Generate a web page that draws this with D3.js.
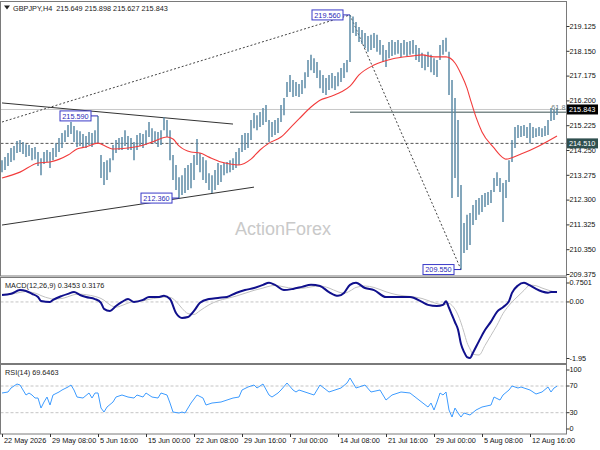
<!DOCTYPE html>
<html>
<head>
<meta charset="utf-8">
<script src="https://cdn.jsdelivr.net/npm/d3@7"></script>
<style>
  body { margin: 0; background: #fff; }
  text { font-family: "Liberation Sans", Arial, sans-serif; }
</style>
</head>
<body>
<div id="chart"></div>
<script>
// ---- data ----
const barHigh = [
  213.85,213.97,214.13,214.33,214.41,214.60,214.64,214.56,214.48,214.45,
  214.33,214.37,214.17,213.93,214.17,214.25,214.17,214.33,214.52,214.72,
  214.92,215.03,215.23,215.35,215.19,215.03,214.99,214.88,214.80,214.96,
  214.92,215.03,215.59,214.05,213.78,213.85,213.93,214.45,214.64,214.72,
  214.76,215.03,214.80,214.72,214.56,214.84,214.92,214.88,215.03,215.35,
  215.11,214.99,214.96,215.03,215.54,215.43,215.03,214.05,213.66,213.18,
  213.26,213.54,213.66,213.74,214.05,214.68,214.13,213.97,213.85,213.34,
  213.26,213.46,213.74,213.66,213.74,213.78,213.85,213.93,214.17,214.33,
  214.84,214.92,214.92,215.43,215.70,215.62,215.74,215.90,216.02,215.43,
  215.35,215.43,215.51,216.02,216.29,216.92,217.20,217.00,216.92,216.84,
  217.00,217.31,217.79,217.99,217.86,217.71,217.39,217.20,217.08,217.20,
  217.28,217.16,217.31,217.47,217.67,217.79,219.56,219.50,219.28,219.09,
  218.97,218.85,218.73,218.78,218.85,218.78,218.57,218.38,218.18,218.50,
  218.57,218.50,218.57,218.46,218.57,218.50,218.54,218.57,218.38,218.26,
  218.07,217.99,218.11,217.99,217.86,217.79,218.38,218.57,218.66,218.11,
  217.00,216.29,215.43,212.87,211.38,211.70,211.77,212.09,212.28,212.36,
  212.48,212.56,212.60,212.68,213.15,213.38,213.15,212.95,213.07,213.85,
  214.64,215.15,215.23,215.19,215.23,215.15,215.31,215.15,215.11,215.15,
  215.11,215.19,215.43,215.90,215.82,215.90
];
const barLow = [
  213.38,213.46,213.62,213.78,213.85,214.13,214.17,214.09,213.97,214.01,
  213.85,213.89,213.62,213.26,213.70,213.78,213.54,213.85,213.97,214.17,
  214.33,214.56,214.76,214.88,214.56,214.37,214.41,214.33,214.33,214.45,
  214.37,214.52,214.52,213.15,212.87,213.07,213.38,213.85,214.13,214.25,
  214.25,214.41,214.25,214.25,213.85,214.25,214.41,214.33,214.45,214.76,
  214.56,214.52,214.37,214.45,215.03,214.76,213.85,213.07,212.68,212.36,
  212.48,212.56,212.68,212.75,213.07,213.66,213.38,213.07,212.95,212.68,
  212.56,212.68,212.87,212.99,213.26,213.34,213.38,213.46,213.54,213.66,
  214.17,214.25,214.33,214.64,215.11,215.03,215.15,215.23,215.35,214.56,
  214.76,214.84,214.92,215.35,215.62,216.33,216.53,216.33,216.37,216.33,
  216.45,216.68,217.12,217.39,217.28,217.08,216.68,216.49,216.41,216.61,
  216.68,216.61,216.76,216.92,217.08,217.31,217.71,218.85,218.73,218.50,
  218.42,218.26,218.11,218.18,218.26,218.11,217.99,217.71,217.51,217.86,
  217.95,217.99,218.03,217.91,217.99,217.95,217.99,218.03,217.79,217.71,
  217.47,217.39,217.51,217.31,217.20,217.12,217.79,217.99,218.11,216.41,
  212.36,213.15,212.40,209.55,210.20,210.32,210.52,211.30,211.50,211.70,
  211.81,212.01,212.09,212.17,212.60,212.83,212.60,211.42,212.36,212.99,
  213.78,214.33,214.72,214.76,214.80,214.72,214.52,214.72,214.76,214.80,
  214.76,214.80,214.84,215.39,215.43,215.63
];

const maIdx = [0,6,12,16,22,25,28,32,35,37,42,46,50,55,57,59,63,66,69,73,76,79,83,86,89,93,96,99,103,106,109,113,116,119,124,130,137,140,144,148,151,153,155,156,158,160,164,166,168,173,179,185];
const maVal = [213.15,213.38,213.74,213.78,214.05,214.29,214.37,214.52,214.37,214.29,214.33,214.41,214.56,214.76,214.68,214.41,214.17,214.13,213.97,213.78,213.70,213.66,213.89,214.25,214.52,214.76,215.11,215.47,215.94,216.21,216.33,216.53,216.76,217.20,217.59,217.83,217.95,217.99,217.91,217.91,217.67,217.24,216.68,216.29,215.54,214.96,214.33,214.05,213.89,214.09,214.41,214.80];

const macdIdx = [0,3,6,8,10,12,13,16,17,20,22,24,26,28,31,33,34,36,38,40,42,44,47,49,52,54,56,58,60,62,64,66,69,72,75,78,81,84,87,89,91,94,97,100,103,106,109,112,114,116,118,121,124,128,132,136,140,142,145,147,148,149,150,151,152,153,154,155,156,157,159,161,163,165,167,169,170,172,174,176,178,180,182,183,185];
const macdVal = [0.24,0.28,0.41,0.38,0.28,0.17,0.03,0,0.07,0.21,0.28,0.34,0.24,0.17,0.10,-0.03,-0.24,-0.31,-0.14,0,0.10,0,0.07,0.17,0.17,0.21,0.10,-0.38,-0.55,-0.52,-0.31,-0.03,0.10,0.14,0.17,0.31,0.41,0.48,0.59,0.66,0.59,0.41,0.45,0.52,0.59,0.55,0.34,0.21,0.31,0.59,0.66,0.48,0.41,0.17,0.17,0.17,0,-0.10,-0.14,-0.10,0.02,-0.20,-0.45,-0.70,-0.95,-1.45,-1.72,-1.90,-1.93,-1.75,-1.35,-0.97,-0.68,-0.34,-0.18,0.03,0.31,0.57,0.66,0.57,0.45,0.36,0.32,0.34,0.3453];
const signalVal = [0.26,0.27,0.33,0.36,0.33,0.27,0.22,0.12,0.10,0.12,0.18,0.25,0.27,0.25,0.19,0.12,0.06,-0.10,-0.18,-0.12,-0.04,0.02,0.04,0.09,0.14,0.17,0.16,0.02,-0.22,-0.40,-0.43,-0.30,-0.10,0.04,0.12,0.20,0.30,0.40,0.48,0.54,0.57,0.52,0.47,0.47,0.52,0.55,0.48,0.35,0.30,0.38,0.50,0.55,0.50,0.35,0.24,0.19,0.12,0.05,-0.06,-0.09,-0.08,-0.05,-0.12,-0.25,-0.45,-0.72,-1.05,-1.40,-1.62,-1.80,-1.83,-1.50,-1.15,-0.80,-0.40,-0.12,0.00,0.20,0.40,0.58,0.56,0.48,0.41,0.38,0.3176];

const rsiIdx = [0,2,3,5,6,7,8,9,10,11,12,13,14,15,16,17,19,20,22,23,24,25,27,29,30,31,32,33,34,35,37,38,40,42,44,45,47,48,50,52,53,55,56,57,59,60,61,63,65,67,68,70,73,75,77,79,80,82,84,85,87,89,90,92,93,95,97,98,99,101,104,106,109,113,115,116,118,121,123,126,128,130,133,136,139,142,143,144,145,146,147,148,149,150,151,152,153,154,156,158,160,163,164,166,167,169,170,172,173,176,178,180,182,183,184,185];
const rsiVal = [59.5,61.0,67.0,73.0,71.5,64.0,56.5,59.5,56.5,52.0,52.0,37.0,46.0,53.5,41.5,56.5,61.0,64.0,68.5,71.5,64.0,53.5,52.0,59.5,52.0,59.5,59.5,37.0,31.0,38.5,46.0,53.5,56.5,53.5,52.0,56.5,53.5,59.5,53.5,52.0,59.5,56.5,44.5,31.0,29.5,31.0,29.5,44.5,56.5,52.0,41.5,44.5,46.0,49.0,52.0,53.5,64.0,68.5,71.5,67.0,73.0,56.5,53.5,59.5,64.0,74.5,64.0,61.0,64.0,61.0,56.5,71.5,61.0,67.0,74.5,82.0,67.0,71.5,61.0,64.0,49.0,56.5,61.0,59.5,49.0,38.5,44.5,34.0,46.0,59.5,56.5,61.0,34.0,23.5,37.0,29.5,23.5,29.5,26.5,34.0,38.5,41.5,53.5,49.0,56.5,64.0,70.0,67.0,68.5,64.0,58.0,61.0,68.5,61.0,67.0,69.6463];

const priceTicks = [209.375,210.350,211.325,212.300,213.275,214.250,215.225,216.200,217.175,218.150,219.125];
const timeIdx = [0,16,32,48,64,80,96,112,128,144,160,176];
const timeLabels = ["22 May 2026","29 May 08:00","5 Jun 16:00","15 Jun 00:00","22 Jun 08:00","29 Jun 16:00","7 Jul 00:00","14 Jul 08:00","21 Jul 16:00","29 Jul 00:00","5 Aug 08:00","12 Aug 16:00"];
const macdTicks = [0.7501, 0, -1.95];
const macdTickText = ["0.7501", "0.00", "-1.95"];
const rsiTicks = [100, 70, 30, 0];
const rsiLevels = [70, 30];

const swingIdx = [32, 59, 116, 153];
const swingPrice = [215.590, 212.360, 219.560, 209.550];

const trendSolid = [[[0, 216.10], [77, 215.27]], [[0, 211.30], [84, 212.79]]];
const trendDotted = [[[0, 215.35], [116, 219.56]], [[116, 219.56], [153, 209.55]]];
const fibStart = 116, fibLevel = 215.736, fibText = "61.8";
const supportLevel = 214.510;
const lastPrice = 215.843;
const header = "GBPJPY,H4  215.649 215.898 215.627 215.843";
const macdTitle = "MACD(12,26,9) 0.3453 0.3176";
const rsiTitle = "RSI(14) 69.6463";

// ---- layout ----
const width = 600, height = 450;
const left = 0.5, right = 566.5;
const mainTop = 1.5, mainBottom = 276;
const macdTop = 277.5, macdBottom = 363.5;
const rsiTop = 364.5, rsiBottom = 434;
const fontSize = 7.3;

const x = d3.scaleLinear().domain([0, 185]).range([2, 557]);
const yMain = d3.scaleLinear().domain([209.375, 219.125]).range([274, 26]);
const yMacd = d3.scaleLinear().domain([-1.95, 0.7501]).range([358.5, 280.2]);
const yRsi = d3.scaleLinear().domain([0, 100]).range([432.7, 366]);

const svg = d3.select("#chart")
    .append("svg")
    .attr("width", width)
    .attr("height", height)
    .style("background", "#fff");

const defs = svg.append("defs");
function panel(id, top, bottom) {
    defs.append("clipPath").attr("id", id)
        .append("rect")
        .attr("x", left).attr("y", top)
        .attr("width", right - left).attr("height", bottom - top);
    return svg.append("g").attr("clip-path", `url(#${id})`);
}

// ---- main panel ----
const main = panel("clipMain", mainTop, mainBottom);

main.append("text")
    .attr("x", 235).attr("y", 235)
    .attr("font-size", 18)
    .attr("fill", "#c9c9c9")
    .text("ActionForex");

main.append("line")
    .attr("x1", left).attr("x2", right)
    .attr("y1", yMain(lastPrice)).attr("y2", yMain(lastPrice))
    .attr("stroke", "#c8c8c8");

main.append("line")
    .attr("x1", left).attr("x2", right)
    .attr("y1", yMain(supportLevel)).attr("y2", yMain(supportLevel))
    .attr("stroke", "#555")
    .attr("stroke-dasharray", "3,2");

const priceLine = d3.line().x(d => x(d[0])).y(d => yMain(d[1]));

main.selectAll("path.trend")
    .data(trendSolid)
    .join("path")
    .attr("class", "trend")
    .attr("d", priceLine)
    .attr("fill", "none")
    .attr("stroke", "#333")
    .attr("stroke-width", 1);

main.selectAll("path.dotted")
    .data(trendDotted)
    .join("path")
    .attr("class", "dotted")
    .attr("d", priceLine)
    .attr("fill", "none")
    .attr("stroke", "#444")
    .attr("stroke-dasharray", "2,2");

main.append("line")
    .attr("x1", x(fibStart)).attr("x2", right)
    .attr("y1", yMain(fibLevel)).attr("y2", yMain(fibLevel))
    .attr("stroke", "#7d8b8b")
    .attr("stroke-width", 1.5);

main.selectAll("line.bar")
    .data(barHigh)
    .join("line")
    .attr("class", "bar")
    .attr("x1", (d, i) => x(i)).attr("x2", (d, i) => x(i))
    .attr("y1", d => yMain(d))
    .attr("y2", (d, i) => yMain(barLow[i]))
    .attr("stroke", "#5b8aa6")
    .attr("stroke-width", 1.5);

main.append("path")
    .datum(maIdx.map((d, k) => [d, maVal[k]]))
    .attr("d", priceLine.curve(d3.curveMonotoneX))
    .attr("fill", "none")
    .attr("stroke", "#f23c3c")
    .attr("stroke-width", 1.1);

main.append("text")
    .attr("x", right - 1).attr("y", yMain(fibLevel) - 2)
    .attr("text-anchor", "end")
    .attr("font-size", fontSize)
    .attr("fill", "#708080")
    .text(fibText);

const swings = main.selectAll("g.swing")
    .data(swingIdx.map((d, k) => ({ i: d, p: swingPrice[k] })))
    .join("g")
    .attr("class", "swing");
swings.append("line")
    .attr("x1", d => x(d.i) - 7).attr("x2", d => x(d.i))
    .attr("y1", d => yMain(d.p)).attr("y2", d => yMain(d.p))
    .attr("stroke", "#2b2bb8");
swings.append("rect")
    .attr("x", d => x(d.i) - 38).attr("y", d => yMain(d.p) - 5)
    .attr("width", 31).attr("height", 10)
    .attr("fill", "#fff")
    .attr("stroke", "#3a3ac8");
swings.append("text")
    .attr("x", d => x(d.i) - 22.5).attr("y", d => yMain(d.p))
    .attr("dy", "0.36em")
    .attr("text-anchor", "middle")
    .attr("font-size", fontSize)
    .attr("fill", "#2b2bb8")
    .text(d => d.p.toFixed(3));

// ---- MACD panel ----
const macdG = panel("clipMacd", macdTop, macdBottom);
macdG.append("line")
    .attr("x1", left).attr("x2", right)
    .attr("y1", yMacd(0)).attr("y2", yMacd(0))
    .attr("stroke", "#c4c4c4")
    .attr("stroke-dasharray", "3,2");
const macdLine = d3.line()
    .x(d => x(d[0])).y(d => yMacd(d[1]))
    .curve(d3.curveMonotoneX);
macdG.append("path")
    .datum(macdIdx.map((d, k) => [d, signalVal[k]]))
    .attr("d", macdLine)
    .attr("fill", "none")
    .attr("stroke", "#c0c0c0")
    .attr("stroke-width", 1);
macdG.append("path")
    .datum(macdIdx.map((d, k) => [d, macdVal[k]]))
    .attr("d", macdLine)
    .attr("fill", "none")
    .attr("stroke", "#10108c")
    .attr("stroke-width", 2);

// ---- RSI panel ----
const rsiG = panel("clipRsi", rsiTop, rsiBottom);
rsiG.selectAll("line.level")
    .data(rsiLevels)
    .join("line")
    .attr("class", "level")
    .attr("x1", left).attr("x2", right)
    .attr("y1", d => yRsi(d)).attr("y2", d => yRsi(d))
    .attr("stroke", "#c4c4c4")
    .attr("stroke-dasharray", "3,2");
rsiG.append("path")
    .datum(rsiIdx.map((d, k) => [d, rsiVal[k]]))
    .attr("d", d3.line().x(d => x(d[0])).y(d => yRsi(d[1])))
    .attr("fill", "none")
    .attr("stroke", "#3d9bff")
    .attr("stroke-width", 1);

// ---- frames ----
[[mainTop, mainBottom], [macdTop, macdBottom], [rsiTop, rsiBottom]].forEach(([t, b]) => {
    svg.append("rect")
        .attr("x", left).attr("y", t)
        .attr("width", right - left).attr("height", b - t)
        .attr("fill", "none")
        .attr("stroke", "#7a7a7a");
});

// ---- texts in panels ----
svg.append("path")
    .attr("d", "M4,5.5 L10,5.5 L7,9.5 Z")
    .attr("fill", "#222");
svg.append("text")
    .attr("x", 13).attr("y", 10.5)
    .attr("font-size", fontSize)
    .attr("fill", "#222")
    .attr("xml:space", "preserve")
    .style("white-space", "pre")
    .text(header);
svg.append("text")
    .attr("x", 5).attr("y", 287.5)
    .attr("font-size", fontSize)
    .attr("fill", "#222")
    .text(macdTitle);
svg.append("text")
    .attr("x", 5).attr("y", 374.5)
    .attr("font-size", fontSize)
    .attr("fill", "#222")
    .text(rsiTitle);

// ---- axes ----
function styleAxis(g) {
    g.select(".domain").remove();
    g.selectAll("line").attr("stroke", "#333");
    g.selectAll("text")
        .attr("font-size", fontSize)
        .attr("font-family", "'Liberation Sans', Arial, sans-serif")
        .attr("fill", "#111");
}

svg.append("g")
    .attr("transform", `translate(${right},0)`)
    .call(d3.axisRight(yMain).tickValues(priceTicks).tickSize(3).tickPadding(0).tickFormat(d3.format(".3f")))
    .call(styleAxis);

svg.append("g")
    .attr("transform", `translate(${right},0)`)
    .call(d3.axisRight(yMacd).tickValues(macdTicks).tickSize(3).tickPadding(0).tickFormat((d, k) => macdTickText[k]))
    .call(styleAxis)
    .call(g => g.selectAll(".tick").attr("transform", d => `translate(0,${Math.min(Math.max(yMacd(d), macdTop + 5.5), macdBottom - 5)})`));

svg.append("g")
    .attr("transform", `translate(${right},0)`)
    .call(d3.axisRight(yRsi).tickValues(rsiTicks).tickSize(3).tickPadding(0))
    .call(styleAxis)
    .call(g => g.selectAll(".tick").attr("transform", d => `translate(0,${Math.min(Math.max(yRsi(d), rsiTop + 5.5), rsiBottom - 5)})`));

svg.append("g")
    .attr("transform", `translate(0,${rsiBottom})`)
    .call(d3.axisBottom(x).tickValues(timeIdx).tickSize(3).tickPadding(1).tickFormat((d, k) => timeLabels[k]))
    .call(styleAxis)
    .call(g => g.selectAll("text").attr("text-anchor", "start").attr("x", 1.5));

// price boxes on the right scale
function priceBox(value, fill) {
    const y = yMain(value);
    svg.append("rect")
        .attr("x", right + 0.5).attr("y", y - 5)
        .attr("width", 31).attr("height", 10)
        .attr("fill", fill);
    svg.append("text")
        .attr("x", right + 2.5).attr("y", y)
        .attr("dy", "0.36em")
        .attr("font-size", fontSize)
        .attr("fill", "#fff")
        .text(value.toFixed(3));
}
priceBox(supportLevel, "#2f4f4f");
priceBox(lastPrice, "#000");
</script>
</body>
</html>
